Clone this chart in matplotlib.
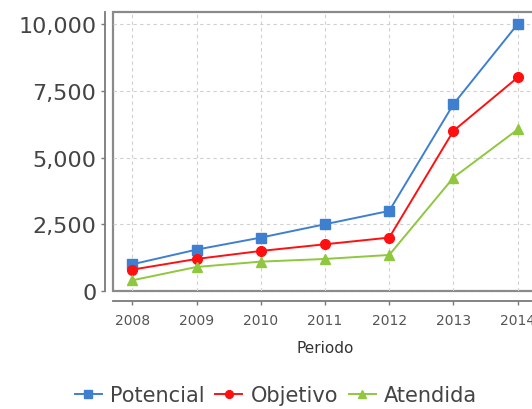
import matplotlib
matplotlib.use("Agg")
from matplotlib import pyplot as plt

years = [2008, 2009, 2010, 2011, 2012, 2013, 2014]
potencial = [1000, 1550, 2000, 2500, 3000, 7000, 10000]
objetivo = [800, 1200, 1500, 1750, 2000, 6000, 8000]
atendida = [400, 900, 1100, 1200, 1350, 4250, 6050]
y_ticks = [0, 2500, 5000, 7500, 10000]
y_tick_labels = ["0", "2,500", "5,000", "7,500", "10,000"]

series = [
    ("Potencial", potencial, "#3f7fcf", "s"),
    ("Objetivo", objetivo, "#ff1010", "o"),
    ("Atendida", atendida, "#8fc73e", "^"),
]


def plot_chart():
    fig = plt.figure(figsize=(5.32, 4.10), dpi=100)
    # the plot box runs past the right edge, as in the original
    ax = fig.add_axes([113 / 532, 118 / 410, (537 - 113) / 532, (397.3 - 118) / 410])

    for name, values, color, marker in series:
        ax.plot(years, values, color=color, marker=marker, markersize=7,
                linewidth=1.4, label=name)

    ax.set_xlim(2007.70, 2014.30)
    ax.set_ylim(0, 10461)

    # plot box
    ax.patch.set_edgecolor("#8a8a8a")
    ax.patch.set_linewidth(1.6)
    for side in ["right", "top"]:
        ax.spines[side].set_visible(False)
    ax.spines["left"].set_position(("outward", 6))
    ax.spines["bottom"].set_position(("outward", 7))
    for side in ["left", "bottom"]:
        ax.spines[side].set_color("#7a7a7a")
        ax.spines[side].set_linewidth(1.3)

    ax.set_xticks(years)
    ax.set_xticklabels([str(y) for y in years])
    ax.set_yticks(y_ticks)
    ax.set_yticklabels(y_tick_labels)
    ax.tick_params(axis="y", labelsize=16, labelcolor="#444444", color="#7a7a7a",
                   length=3, width=1, pad=3)
    ax.tick_params(axis="x", labelsize=10, labelcolor="#555555", color="#7a7a7a",
                   length=3, width=1, pad=6)

    ax.grid(True, color="#d0d0d0", linestyle=(0, (3, 3)), linewidth=0.8)
    ax.set_axisbelow(True)

    ax.set_xlabel("Periodo", fontsize=11, color="#333333", labelpad=9)

    fig.legend(loc="center", bbox_to_anchor=(0.519, 14 / 410), ncol=3,
               frameon=False, fontsize=15, handlelength=1.3, handletextpad=0.4,
               columnspacing=0.5, labelcolor="#444444", borderpad=0,
               markerscale=0.8)

    fig.savefig("out.png", dpi=100)


def main():
    plot_chart()


main()
